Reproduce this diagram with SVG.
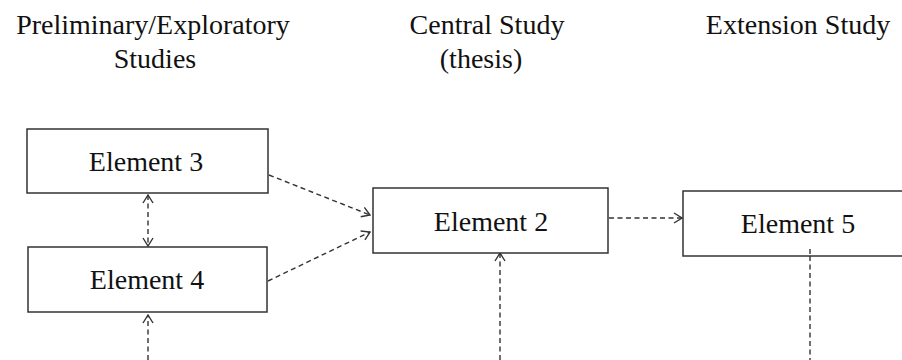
<svg xmlns="http://www.w3.org/2000/svg" width="902" height="360" viewBox="0 0 902 360">
<style>
.t{font-family:"Liberation Serif","Times New Roman",serif;font-size:28px;fill:#111;text-anchor:middle}
.box{fill:#fff;stroke:#333;stroke-width:1.5}
.c{fill:none;stroke:#333;stroke-width:1.4;stroke-dasharray:5,3.5}
</style>
<defs>
<marker id="ah" markerUnits="userSpaceOnUse" viewBox="0 0 10 12" refX="9" refY="6" markerWidth="10" markerHeight="12" orient="auto-start-reverse">
<path d="M1,1 L9,6 L1,11" fill="none" stroke="#333" stroke-width="1.4"/>
</marker>
</defs>
<rect width="902" height="360" fill="#fff"/>
<g id="headers">
<text class="t" x="153" y="34">Preliminary/Exploratory</text>
<text class="t" x="155" y="68">Studies</text>
<text class="t" x="487" y="34">Central Study</text>
<text class="t" x="481" y="68">(thesis)</text>
<text class="t" x="798" y="34">Extension Study</text>
</g>
<g id="connectors">
<path class="c" d="M269,175 L370,215" marker-end="url(#ah)"/>
<path class="c" d="M268,281 L370,232" marker-end="url(#ah)"/>
<path class="c" d="M148,195 L148,246" marker-start="url(#ah)" marker-end="url(#ah)"/>
<path class="c" d="M148,360 L148,315" marker-end="url(#ah)"/>
<path class="c" d="M500,360 L500,253" marker-end="url(#ah)"/>
<path class="c" d="M609,218 L682,218" marker-end="url(#ah)"/>
<path class="c" d="M810,256 L810,360"/>
</g>
<g id="element3">
<rect class="box" x="27" y="129" width="241" height="64"/>
<text class="t" x="146" y="171">Element 3</text>
</g>
<g id="element4">
<rect class="box" x="28" y="247" width="239" height="65"/>
<text class="t" x="147" y="289">Element 4</text>
</g>
<g id="element2">
<rect class="box" x="373" y="188" width="235" height="65"/>
<text class="t" x="491" y="231">Element 2</text>
</g>
<g id="element5">
<rect class="box" x="683" y="191" width="240" height="65"/>
<text class="t" x="798" y="233">Element 5</text>
<path class="c" d="M810,249 L810,256"/>
</g>
</svg>
